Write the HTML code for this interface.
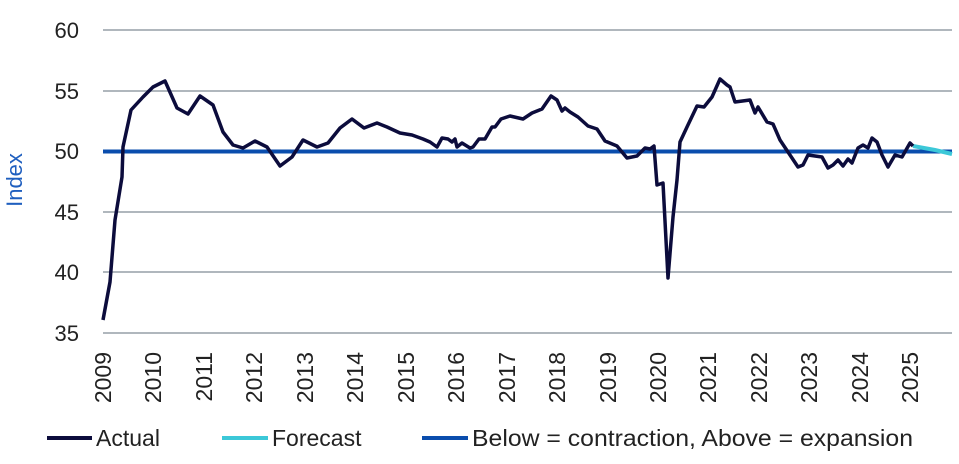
<!DOCTYPE html>
<html><head><style>body{margin:0;background:#fff}svg{display:block}text{font-family:"Liberation Sans",sans-serif}</style></head><body>
<svg width="959" height="464" viewBox="0 0 959 464">
<g stroke="#b0b7bd" stroke-width="2">
<line x1="103" x2="952" y1="30" y2="30"/><line x1="103" x2="952" y1="91" y2="91"/><line x1="103" x2="952" y1="212" y2="212"/><line x1="103" x2="952" y1="272" y2="272"/><line x1="103" x2="952" y1="333" y2="333"/></g>
<g font-size="22" fill="#222" text-anchor="end">
<text x="79" y="38">60</text><text x="79" y="99">55</text><text x="79" y="159">50</text><text x="79" y="220">45</text><text x="79" y="280">40</text><text x="79" y="341">35</text></g>
<text transform="translate(22,180) rotate(-90)" font-size="22" fill="#1f5fbf" text-anchor="middle">Index</text>
<g font-size="23" fill="#222" text-anchor="end">
<text transform="translate(111,352) rotate(-90)">2009</text><text transform="translate(161,352) rotate(-90)">2010</text><text transform="translate(212,352) rotate(-90)">2011</text><text transform="translate(262,352) rotate(-90)">2012</text><text transform="translate(313,352) rotate(-90)">2013</text><text transform="translate(363,352) rotate(-90)">2014</text><text transform="translate(414,352) rotate(-90)">2015</text><text transform="translate(464,352) rotate(-90)">2016</text><text transform="translate(515,352) rotate(-90)">2017</text><text transform="translate(565,352) rotate(-90)">2018</text><text transform="translate(616,352) rotate(-90)">2019</text><text transform="translate(666,352) rotate(-90)">2020</text><text transform="translate(716,352) rotate(-90)">2021</text><text transform="translate(767,352) rotate(-90)">2022</text><text transform="translate(817,352) rotate(-90)">2023</text><text transform="translate(868,352) rotate(-90)">2024</text><text transform="translate(918,352) rotate(-90)">2025</text></g>
<line x1="103" x2="952" y1="151.5" y2="151.5" stroke="#0a4dad" stroke-width="4"/>
<polyline fill="none" stroke="#3cc8d8" stroke-width="4" points="913,146 935,150 952,154"/>
<polyline fill="none" stroke="#0c0c3c" stroke-width="3.5" stroke-linejoin="round" points="103,320 110,282 115,220 122,177 123,147 131,110 143,97 153,87 165,81 177,108 188,114 200,96 213,105 223,132 233,145 243,148 255,141 267,147 280,166 292,157 303,140 317,147 328,143 340,128 352,119 364,128 377,123 387,127 400,133 412,135 423,139 430,142 437,147 442,138 448,139 452,142 455,139 457,147 462,143 470,148 473,147 479,139 485,139 492,127 495,127 501,119 510,116 523,119 532,113 542,109 551,96 557,100 562,111 565,108 570,112 578,117 588,126 597,129 605,141 617,146 627,158 637,156 645,148 650,149 654,146 657,185 663,183 668,278 673,217 677,180 680,142 687,127 697,106 704,107 712,97 720,79 727,85 730,87 735,102 750,100 755,113 758,107 767,122 773,124 780,140 788,152 798,167 803,165 808,155 822,157 828,168 833,165 838,160 843,166 848,159 852,163 858,148 863,145 868,148 872,138 877,142 882,155 888,167 895,155 902,157 910,143 913,146"/>
<line x1="47" x2="92" y1="438" y2="438" stroke="#0c0c3c" stroke-width="4"/>
<text x="96" y="446" font-size="23" fill="#222">Actual</text>
<line x1="222" x2="268" y1="438" y2="438" stroke="#3cc8d8" stroke-width="4"/>
<text x="272" y="446" font-size="23" fill="#222">Forecast</text>
<line x1="422" x2="468" y1="438" y2="438" stroke="#0a4dad" stroke-width="4"/>
<text x="472" y="446" font-size="23" fill="#222" textLength="441" lengthAdjust="spacingAndGlyphs">Below = contraction, Above = expansion</text>
</svg>
</body></html>
